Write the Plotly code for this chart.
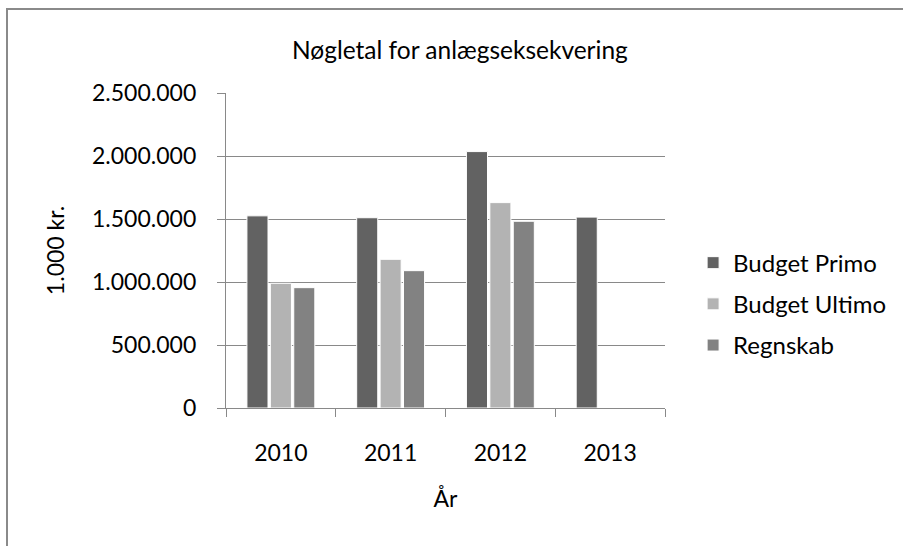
import plotly.graph_objects as go

years = ["2010", "2011", "2012", "2013"]
budget_primo = [1525000, 1510000, 2035000, 1515000]
budget_ultimo = [990000, 1180000, 1630000, None]
regnskab = [955000, 1090000, 1482000, None]
y_ticks = [0, 500000, 1000000, 1500000, 2000000, 2500000]
y_tick_labels = ["0", "500.000", "1.000.000", "1.500.000", "2.000.000", "2.500.000"]

FONT = "Lato"
fig = go.Figure()
for i, (name, vals, col) in enumerate([("Budget Primo", budget_primo, "#626262"),
                                       ("Budget Ultimo", budget_ultimo, "#b3b3b3"),
                                       ("Regnskab", regnskab, "#828282")]):
    fig.add_trace(go.Bar(x=years, y=vals, name=name, marker_color=col, legendgroup=f"g{i}",
                         marker_line=dict(color="white", width=1)))

fig.update_layout(
    width=903, height=546,
    margin=dict(l=226, r=236, t=93, b=138),
    paper_bgcolor="white", plot_bgcolor="white",
    font=dict(family=FONT, size=23, color="black"),
    barmode="group", bargap=0.36, bargroupgap=0.1,
    title=dict(text="Nøgletal for anlægseksekvering", x=(461 - 226) / 441, xanchor="center",
               xref="paper", y=1 - 50 / 546, yanchor="middle", font=dict(size=24.5, family=FONT)),
    legend=dict(x=1.064, xanchor="left", y=0.33, yanchor="middle",
                font=dict(size=24), itemwidth=30, tracegroupgap=7),
    showlegend=True,
)
fig.update_yaxes(range=[0, 2500000], tickvals=y_ticks, ticktext=y_tick_labels,
                 tickfont=dict(size=23),
                 showgrid=True, gridcolor="#898989", gridwidth=1.3,
                 showline=True, linecolor="#898989", linewidth=1.3,
                 ticks="outside", ticklen=8, tickcolor="#898989",
                 ticklabelstandoff=16, zeroline=False,
                 title=dict(text="1.000 kr.", standoff=20, font=dict(size=23)))
fig.update_xaxes(showline=True, linecolor="#898989", linewidth=1.3,
                 tickfont=dict(size=23),
                 ticks="outside", ticklen=8, tickcolor="#898989", tickson="boundaries",
                 ticklabelstandoff=24,
                 title=dict(text="År", standoff=26, font=dict(size=23)))
fig.add_shape(type="rect", xref="paper", yref="paper",
              x0=(6 - 226) / 441, x1=(915 - 226) / 441,
              y0=(408 - 560) / 315, y1=(408 - 9) / 315,
              line=dict(color="#8a8a8a", width=2), fillcolor="rgba(0,0,0,0)", layer="below")
fig.write_html("out.html", config={"displayModeBar": False},
               post_script="document.body.style.margin='0';")
